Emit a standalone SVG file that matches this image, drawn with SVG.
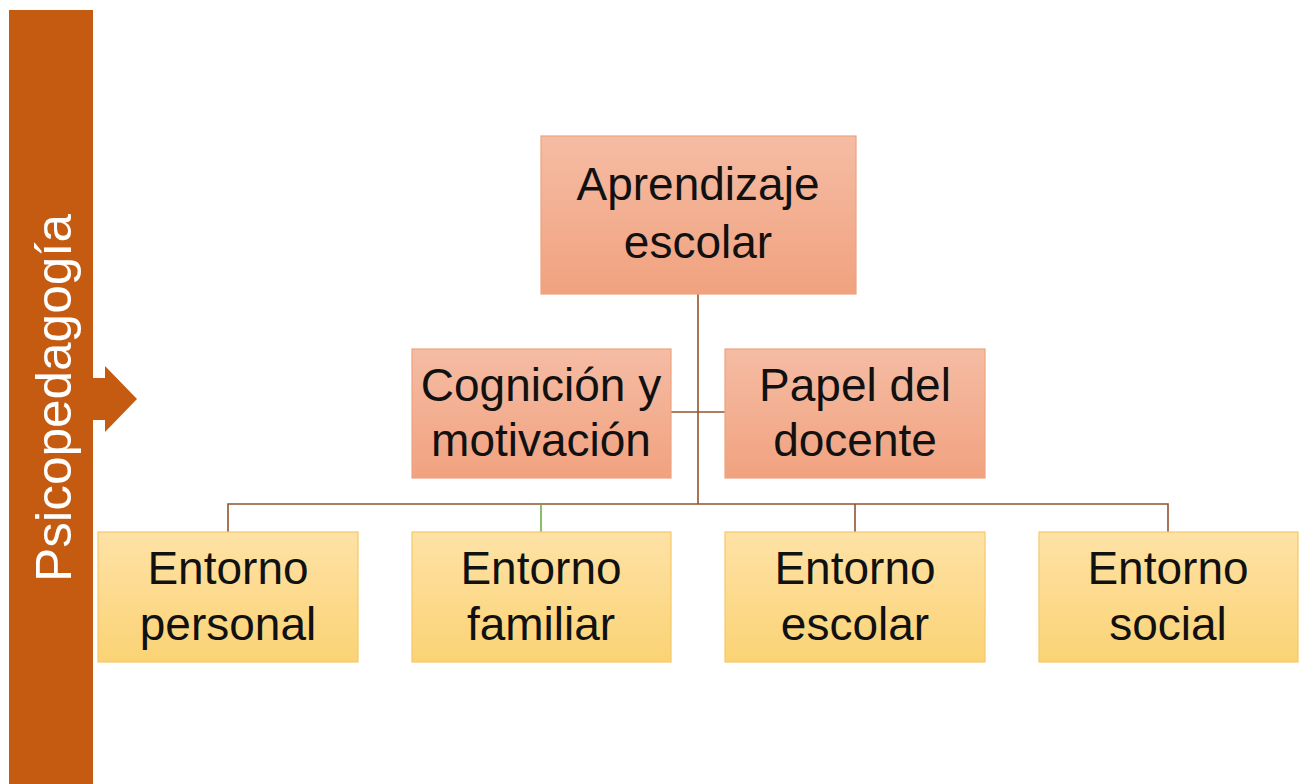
<svg xmlns="http://www.w3.org/2000/svg" width="1303" height="784" viewBox="0 0 1303 784">
<defs>
<linearGradient id="gs" x1="0" y1="0" x2="0" y2="1"><stop offset="0" stop-color="#F5BCA4"/><stop offset="1" stop-color="#F1A27F"/></linearGradient>
<linearGradient id="gy" x1="0" y1="0" x2="0" y2="1"><stop offset="0" stop-color="#FEE2A6"/><stop offset="1" stop-color="#FBD375"/></linearGradient>
<style>
.s{fill:url(#gs);stroke:#EDA27F;stroke-width:1.2}
.y{fill:url(#gy);stroke:#F3C969;stroke-width:1.2}
.t{font-family:"Liberation Sans",Arial,sans-serif;font-size:46px;fill:#111;text-anchor:middle}
.c{stroke:#93532F;stroke-width:1.6;fill:none}
</style>
</defs>
<rect width="1303" height="784" fill="#fff"/>
<g id="psicopedagogia">
<rect x="9" y="10" width="84" height="774" fill="#C55A11"/>
<polygon points="93,378 105,378 105,366 137,399 105,432 105,420 93,420" fill="#C55A11"/>
<text transform="translate(71,398) rotate(-90)" font-family="'Liberation Sans',Arial,sans-serif" font-size="50" fill="#fff" text-anchor="middle" textLength="368" lengthAdjust="spacingAndGlyphs">Psicopedagogía</text>
</g>
<g id="connectors">
<path class="c" d="M698,294V504M671,412H725M228,532V504H1168V532M855,504V532"/>
<path d="M541,504V532" stroke="#70AD47" stroke-width="1.6"/>
</g>
<g id="aprendizaje"><rect class="s" x="541" y="136" width="315" height="158"/><text class="t" x="698" y="200">Aprendizaje</text><text class="t" x="698" y="258">escolar</text></g>
<g id="cognicion"><rect class="s" x="412" y="349" width="259" height="129"/><text class="t" x="541" y="401">Cognición y</text><text class="t" x="541" y="456">motivación</text></g>
<g id="papel"><rect class="s" x="725" y="349" width="260" height="129"/><text class="t" x="855" y="401">Papel del</text><text class="t" x="855" y="456">docente</text></g>
<g id="personal"><rect class="y" x="98" y="532" width="260" height="130"/><text class="t" x="228" y="584">Entorno</text><text class="t" x="228" y="640">personal</text></g>
<g id="familiar"><rect class="y" x="412" y="532" width="259" height="130"/><text class="t" x="541" y="584">Entorno</text><text class="t" x="541" y="640">familiar</text></g>
<g id="escolar"><rect class="y" x="725" y="532" width="260" height="130"/><text class="t" x="855" y="584">Entorno</text><text class="t" x="855" y="640">escolar</text></g>
<g id="social"><rect class="y" x="1039" y="532" width="259" height="130"/><text class="t" x="1168" y="584">Entorno</text><text class="t" x="1168" y="640">social</text></g>
</svg>
